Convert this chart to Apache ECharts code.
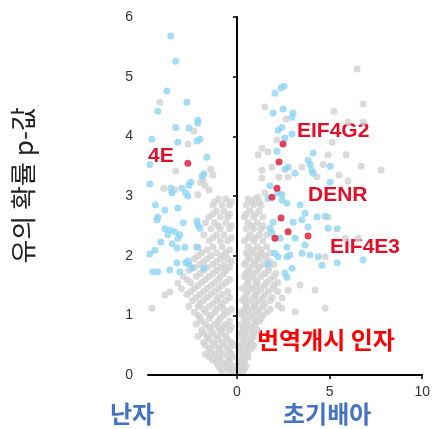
<!DOCTYPE html>
<html><head><meta charset="utf-8">
<script src="https://cdn.jsdelivr.net/npm/echarts@6/dist/echarts.min.js"></script>
<style>html,body{margin:0;padding:0;background:#fff}#c{width:433px;height:429px}</style>
</head><body><div id="c"></div>
<script>
// tick labels
const xTicks = [0, 5, 10];
const yTicks = [0, 1, 2, 3, 4, 5, 6];
// red: translation initiation factors
const redPoints = [[2.49,3.87],[2.27,3.57],[2.16,3.13],[1.89,2.98],[2.38,2.63],[2.76,2.40],[2.05,2.29],[3.84,2.33],[-2.65,3.55]];
// blue: significant
const bluePoints = [
[-3.57,5.68],[-3.30,5.26],[-3.78,4.76],[-2.70,4.57],[-4.27,4.42],[-2.11,4.27],[-2.11,4.22],[-3.30,4.15],[-2.59,4.14],
[-2.00,3.95],[-2.16,3.92],[-4.59,3.95],[-3.19,3.90],[-1.62,3.65],[-4.70,3.53],[-1.78,3.37],[-1.89,3.33],[-4.70,3.20],
[-3.57,3.13],[-2.49,3.23],[-2.59,3.18],[-2.97,3.13],[-3.51,3.05],[-2.76,3.05],[-2.65,3.00],
[-3.19,2.80],[-3.89,2.76],[-4.32,2.60],[-4.27,2.65],[-3.62,2.43],[-3.35,2.40],[-3.73,2.35],[-3.19,2.29],[-2.11,2.51],
[-2.00,2.46],[-2.16,2.58],[-3.08,2.35],[-4.11,2.23],[-4.43,2.09],[-4.70,2.03],[-3.24,2.13],[-2.81,2.14],[-2.11,2.14],
[-4.27,1.73],[-4.54,1.73],[-3.62,1.76],[-3.24,1.88],[-2.76,1.88],[-2.59,1.86],[-2.43,1.79],[-1.78,1.79],[-2.65,1.91],
[-3.08,1.73],[-4.40,2.85],[-3.90,2.45],[-2.90,2.55],[-3.50,2.20],
[2.54,4.84],[2.38,4.81],[2.05,4.72],[1.95,4.39],[2.49,4.46],[3.03,4.39],[2.97,4.32],[2.43,4.15],[2.22,4.10],[2.97,4.04],
[2.16,3.75],[4.11,3.72],[2.76,3.48],[2.59,3.45],[3.14,3.38],[3.84,3.60],[3.95,3.53],[4.05,3.43],[1.78,3.17],[2.22,3.05],
[2.43,3.02],[2.59,3.97],[5.03,3.23],[4.11,3.38],[5.03,3.50],
[1.68,2.96],[2.43,2.93],[2.70,2.88],[3.41,2.85],[3.68,2.71],[4.32,2.65],[4.76,2.66],[3.51,2.60],[3.84,2.48],[3.03,2.56],
[1.95,2.56],[1.78,2.46],[1.89,2.38],[2.32,2.29],[3.14,2.29],[3.68,2.18],[3.51,2.04],[3.95,2.01],[4.38,1.98],[4.59,1.84],
[2.70,2.14],[2.70,1.98],[2.86,2.01],[2.22,1.98],[1.68,1.86],[2.59,1.71],[2.70,1.64],[2.05,2.04],[4.92,2.46],[5.41,2.45],
[5.41,1.88],[6.81,1.93],[2.97,1.79]
];
// gray: not significant
const grayPoints = [
[6.49,5.13],[6.81,4.54],[5.24,4.42],[6.00,4.24],[6.81,4.24],[5.14,3.90],[4.92,3.69],[5.89,3.69],[6.70,3.50],[7.78,3.43],
[5.51,3.35],[6.00,3.25],[4.65,3.53],[1.51,4.49],[2.65,4.29],[2.16,3.94],[1.35,3.80],[1.14,3.69],[1.68,3.74],[1.89,3.48],
[1.35,3.43],[1.35,3.30],[2.27,3.32],[2.76,3.32],[3.51,3.48],[4.32,3.32],[1.14,2.98],[1.51,3.05],[4.92,2.65],[5.84,2.29],
[6.54,2.29],[4.76,1.98],[4.76,1.12],[4.22,1.42],[2.43,1.12],[2.43,1.29],[3.41,1.51],[2.76,1.42],[3.14,1.06],[2.22,1.17],
[-4.16,4.57],[-2.32,4.09],[-2.65,3.87],[-3.30,3.42],[-1.41,3.45],[-1.30,3.35],[-1.84,3.27],[-1.95,3.22],[-1.73,3.18],
[-3.95,3.13],[-3.35,3.10],[-1.51,3.10],[-2.11,3.02],[-4.59,1.12],[-3.89,1.34],[-3.62,1.39],[-3.19,1.54],
[-1.0,2.95],[-0.6,2.95],[-1.3,2.85],[-0.8,2.85],[-0.4,2.85],[-1.1,2.75],[-0.7,2.75],[-1.5,2.65],[-0.9,2.65],[-0.5,2.65],
[-1.7,2.55],[-1.2,2.55],[-0.6,2.55],[-1.4,2.45],[-0.9,2.45],[-0.4,2.45],[-1.8,2.35],[-1.1,2.35],[-0.7,2.35],
[-1.5,2.25],[-0.9,2.25],[-0.5,2.25],[-2.2,2.15],[-1.3,2.15],[-0.8,2.15],[-1.9,2.05],[-1.1,2.05],[-0.6,2.05],
[-2.3,1.95],[-1.6,1.95],[-0.9,1.95],[-0.5,1.95],[-2.0,1.85],[-1.3,1.85],[-0.7,1.85],[-2.6,1.75],[-1.8,1.75],[-1.1,1.75],[-0.6,1.75],
[-2.9,1.65],[-2.2,1.65],[-1.5,1.65],[-0.9,1.65],[-2.5,1.55],[-1.9,1.55],[-1.2,1.55],[-0.6,1.55],[-3.0,1.45],[-2.3,1.45],[-1.6,1.45],[-1.0,1.45],
[-2.7,1.35],[-2.0,1.35],[-1.4,1.35],[-0.8,1.35],[-2.4,1.25],[-1.8,1.25],[-1.1,1.25],[-0.6,1.25],[-2.6,1.15],[-2.1,1.15],[-1.5,1.15],[-0.9,1.15],
[-2.3,1.05],[-1.7,1.05],[-1.2,1.05],[-0.5,1.05],[-2.0,0.95],[-1.5,0.95],[-0.9,0.95],[-2.2,0.85],[-1.7,0.85],[-1.2,0.85],[-0.6,0.85],
[-1.9,0.75],[-1.4,0.75],[-0.9,0.75],[-0.4,0.75],[-2.1,0.65],[-1.6,0.65],[-1.1,0.65],[-0.6,0.65],[-1.8,0.55],[-1.3,0.55],[-0.8,0.55],[-0.3,0.55],
[-1.5,0.45],[-1.0,0.45],[-0.5,0.45],[-1.7,0.35],[-1.2,0.35],[-0.7,0.35],[-0.3,0.35],[-1.3,0.25],[-0.9,0.25],[-0.4,0.25],
[-1.0,0.15],[-0.6,0.15],[-0.2,0.15],[-0.8,0.05],[-0.4,0.05],[-0.1,0.05],
[-1.2,2.9],[-0.3,2.9],[-1.3,2.7],[-0.4,2.7],[-1.0,2.5],[-0.3,2.5],[-1.3,2.3],[-0.3,2.3],[-1.6,2.1],[-0.4,2.1],
[-2.1,2.0],[-1.4,2.0],[-0.8,2.0],[-1.8,1.9],[-1.1,1.9],[-0.3,1.9],[-2.3,1.8],[-1.6,1.8],[-0.9,1.8],[-0.4,1.8],
[-2.0,1.7],[-1.3,1.7],[-0.7,1.7],[-2.7,1.6],[-1.7,1.6],[-1.0,1.6],[-0.4,1.6],[-2.1,1.5],[-1.4,1.5],[-0.8,1.5],
[-2.5,1.4],[-1.8,1.4],[-1.2,1.4],[-0.5,1.4],[-2.2,1.3],[-1.6,1.3],[-1.0,1.3],[-0.4,1.3],[-2.0,1.2],[-1.3,1.2],[-0.8,1.2],
[-1.8,1.1],[-1.1,1.1],[-0.7,1.1],[-0.3,1.1],[-2.1,1.0],[-1.4,1.0],[-0.7,1.0],[-1.9,0.9],[-1.0,0.9],[-0.4,0.9],
[-1.5,0.8],[-1.0,0.8],[-0.7,0.8],[-0.3,0.8],[-1.8,0.7],[-1.3,0.7],[-0.8,0.7],[-1.5,0.6],[-1.0,0.6],[-0.5,0.6],
[-1.7,0.5],[-1.2,0.5],[-0.7,0.5],[-0.2,0.5],[-1.4,0.4],[-0.9,0.4],[-0.4,0.4],[-1.5,0.3],[-1.0,0.3],[-0.5,0.3],[-0.2,0.3],
[-1.1,0.2],[-0.7,0.2],[-0.4,0.2],[-0.9,0.1],[-0.5,0.1],[-0.3,0.1],
[0.6,2.95],[1.0,2.95],[0.5,2.85],[0.9,2.85],[1.3,2.85],[0.7,2.75],[1.2,2.75],[0.4,2.65],[0.9,2.65],[1.4,2.65],[0.6,2.55],[1.1,2.55],
[0.5,2.45],[0.9,2.45],[1.3,2.45],[0.7,2.35],[1.2,2.35],[1.6,2.35],[0.4,2.25],[0.9,2.25],[1.4,2.25],[0.6,2.15],[1.1,2.15],[1.6,2.15],
[0.5,2.05],[0.9,2.05],[1.3,2.05],[1.8,2.05],[0.7,1.95],[1.2,1.95],[1.6,1.95],[0.4,1.85],[0.9,1.85],[1.4,1.85],[2.0,1.85],
[0.6,1.75],[1.1,1.75],[1.7,1.75],[0.4,1.65],[0.8,1.65],[1.3,1.65],[2.0,1.65],[0.6,1.55],[1.1,1.55],[1.6,1.55],[2.2,1.55],
[0.3,1.45],[0.8,1.45],[1.3,1.45],[1.9,1.45],[0.5,1.35],[1.0,1.35],[1.5,1.35],[0.3,1.25],[0.7,1.25],[1.2,1.25],[1.8,1.25],
[0.5,1.15],[0.9,1.15],[1.4,1.15],[0.2,1.05],[0.6,1.05],[1.1,1.05],[1.6,1.05],[0.4,0.95],[0.8,0.95],[1.3,0.95],
[0.2,0.85],[0.6,0.85],[1.0,0.85],[0.3,0.75],[0.7,0.75],[1.1,0.75],[0.1,0.65],[0.5,0.65],[0.9,0.65],[0.3,0.55],[0.7,0.55],
[0.1,0.45],[0.5,0.45],[0.8,0.45],[0.2,0.35],[0.5,0.35],[0.1,0.25],[0.4,0.25],[0.2,0.15],[0.5,0.15],[0.1,0.05],[0.3,0.05],
[0.8,2.9],[1.2,2.9],[0.5,2.7],[1.0,2.7],[0.8,2.5],[1.4,2.5],[0.6,2.3],[1.0,2.3],[0.8,2.1],[1.3,2.1],
[0.6,2.0],[1.1,2.0],[1.5,2.0],[0.5,1.9],[1.0,1.9],[1.8,1.9],[0.7,1.8],[1.2,1.8],[1.7,1.8],[0.5,1.7],[0.9,1.7],[1.5,1.7],[2.1,1.7],
[0.6,1.6],[1.0,1.6],[1.8,1.6],[0.5,1.5],[1.0,1.5],[1.5,1.5],[2.0,1.5],[0.6,1.4],[1.1,1.4],[1.7,1.4],[2.2,1.4],
[0.4,1.3],[0.9,1.3],[1.4,1.3],[1.9,1.3],[0.5,1.2],[1.0,1.2],[1.5,1.2],[0.4,1.1],[0.8,1.1],[1.2,1.1],[1.8,1.1],
[0.3,1.0],[0.7,1.0],[1.0,1.0],[1.4,1.0],[0.5,0.9],[1.0,0.9],[1.2,0.9],[0.4,0.8],[0.8,0.8],[0.2,0.7],[0.5,0.7],[0.9,0.7],
[0.4,0.6],[0.8,0.6],[0.2,0.5],[0.6,0.5],[0.9,0.5],[0.3,0.4],[0.6,0.4],[0.3,0.3],[0.6,0.3],[0.1,0.2],[0.4,0.2],[0.2,0.1],[0.4,0.1]
];
const chart = echarts.init(document.getElementById('c'), null, {renderer:'canvas'});
const fam = '"Liberation Sans", Arial, sans-serif';
const kfam = '"Noto Sans CJK KR", sans-serif';
chart.setOption({
  animation:false,
  backgroundColor:'#fff',
  grid:{left:148, right:9, top:17, bottom:54, containLabel:false},
  xAxis:{type:'value', min:-4.8, max:10, z:10,
    axisLine:{show:true, onZero:false, lineStyle:{color:'#000', width:2}},
    axisTick:{show:true, length:4, customValues:xTicks, lineStyle:{color:'#000', width:1.5}},
    axisLabel:{customValues:xTicks, margin:10, fontSize:14, color:'#333', fontFamily:fam},
    splitLine:{show:false}},
  yAxis:{type:'value', min:0, max:6, interval:1, z:10,
    axisLine:{show:true, onZero:true, lineStyle:{color:'#000', width:2}},
    axisTick:{show:true, length:4, lineStyle:{color:'#000', width:1.5}},
    axisLabel:{margin:15, fontSize:14, color:'#333', fontFamily:fam,
      formatter:function(v){return yTicks.indexOf(v)>=0?String(v):'';}},
    splitLine:{show:false}},
  series:[
    {type:'scatter', data:grayPoints, symbolSize:7, itemStyle:{color:'#d2d2d2'}, z:2},
    {type:'scatter', data:bluePoints, symbolSize:7, itemStyle:{color:'#8dd5f2'}, z:3},
    {type:'scatter', data:redPoints, symbolSize:7, itemStyle:{color:'#dc1433'}, z:4}
  ],
  graphic:[
    {type:'text', left:10, top:107, rotation:Math.PI/2, style:{text:'유의 확률 p-값', font:'26px '+kfam, fill:'#222'}},
    {type:'text', x:297, y:131, style:{text:'EIF4G2', font:'bold 21px '+fam, fill:'#e0102a', textVerticalAlign:'middle'}},
    {type:'text', x:308, y:195, style:{text:'DENR', font:'bold 21px '+fam, fill:'#e0102a', textVerticalAlign:'middle'}},
    {type:'text', x:330, y:247, style:{text:'EIF4E3', font:'bold 21px '+fam, fill:'#e0102a', textVerticalAlign:'middle'}},
    {type:'text', x:148, y:156, style:{text:'4E', font:'bold 21px '+fam, fill:'#e0102a', textVerticalAlign:'middle'}},
    {type:'text', x:257, y:340, style:{text:'번역개시 인자', font:'bold 24px '+kfam, fill:'#ff0000', textVerticalAlign:'middle'}},
    {type:'text', x:110, y:414, style:{text:'난자', font:'bold 24px '+kfam, fill:'#4472c4', textVerticalAlign:'middle'}},
    {type:'text', x:283, y:414, style:{text:'초기배아', font:'bold 24px '+kfam, fill:'#4472c4', textVerticalAlign:'middle'}}
  ]
});
</script></body></html>
